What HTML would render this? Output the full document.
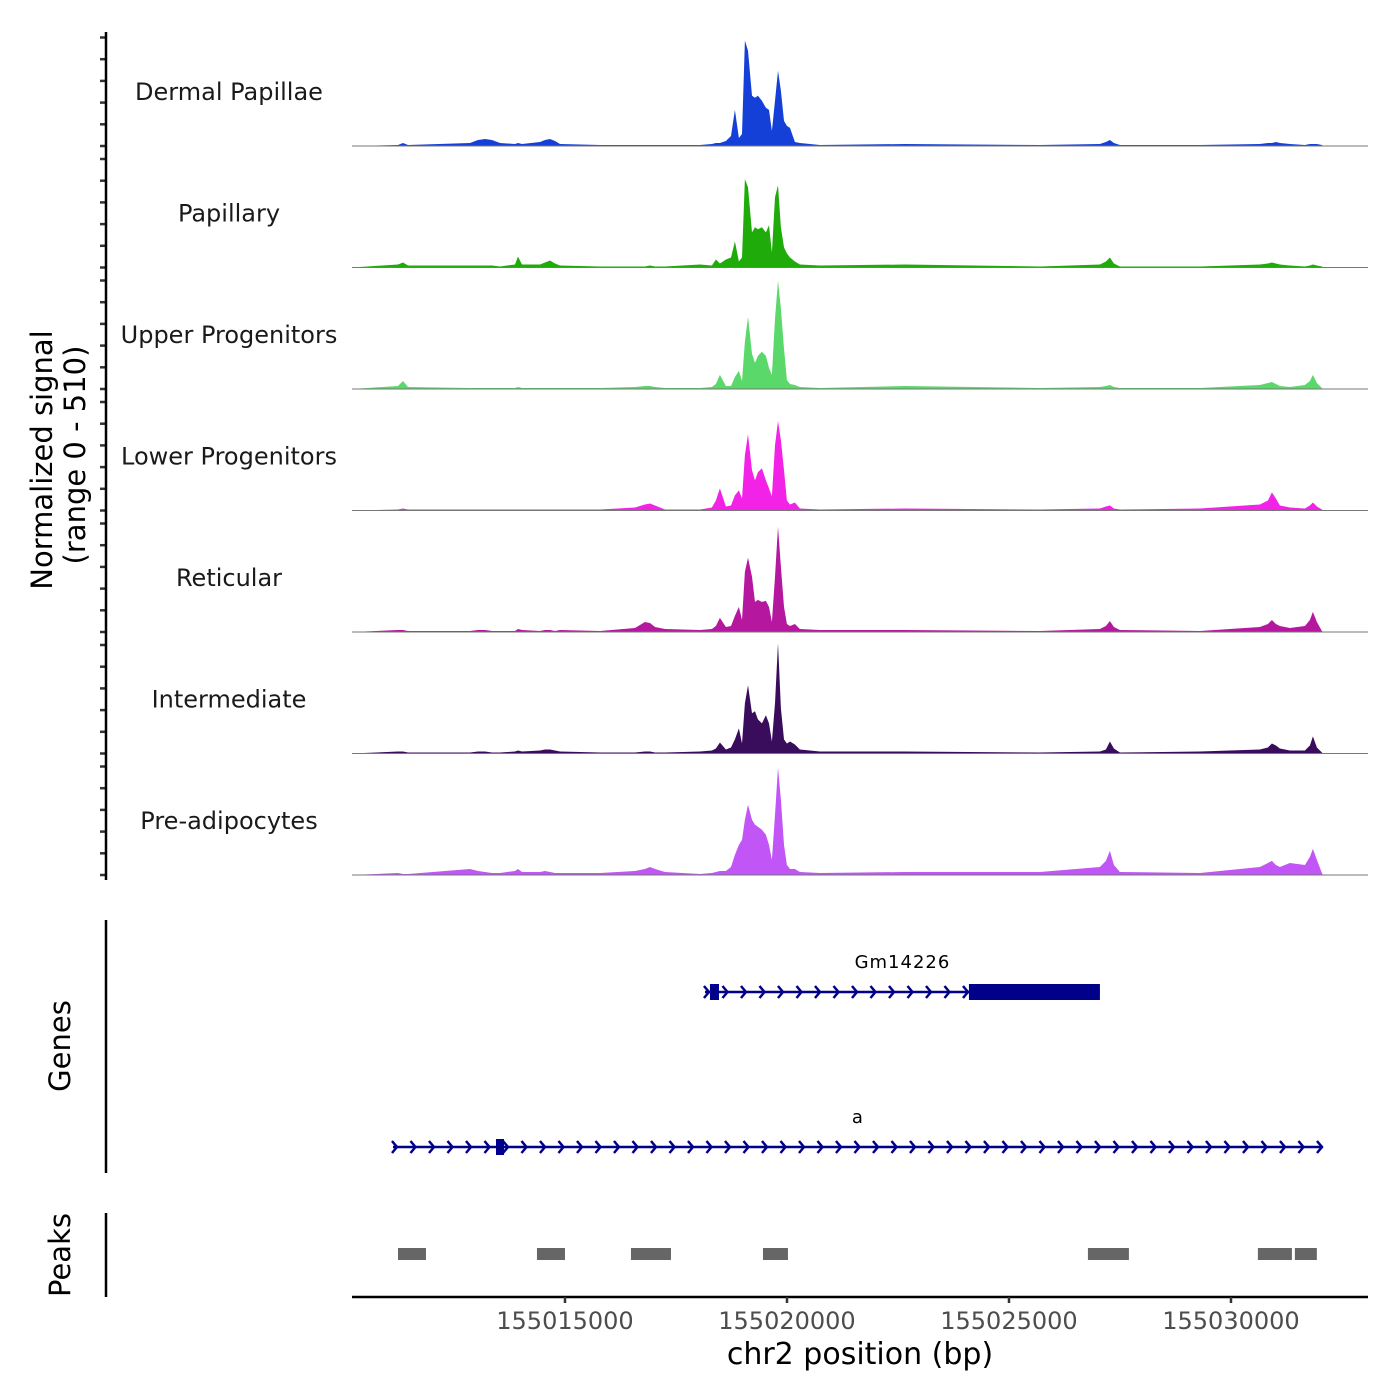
<!DOCTYPE html>
<html><head><meta charset="utf-8"><style>
html,body{margin:0;padding:0;background:#fff}
svg{display:block;font-family:"DejaVu Sans","Liberation Sans",sans-serif}
</style></head><body>
<svg id="chart" width="1400" height="1400" viewBox="0 0 1400 1400" xmlns="http://www.w3.org/2000/svg">
<g id="tracks"></g>
<g id="genes"></g>
<g id="peaks"></g>
<g id="axes"></g>
</svg>
<script>
const xDomain = [155010203, 155033086];
const yMaxSignal = 121;
const trackNames = ["Dermal Papillae","Papillary","Upper Progenitors","Lower Progenitors","Reticular","Intermediate","Pre-adipocytes"];
const trackColors = ["#1440d8","#1fab0a","#5ad86a","#f222e6","#b5179e","#3a0c5c","#c155f5"];
const positions = [155010203,155011239,155011352,155011464,155012860,155013041,155013198,155013356,155013536,155013874,155013941,155014031,155014437,155014549,155014662,155014775,155014887,155015788,155016576,155016801,155016914,155017027,155017252,
155018040,155018310,155018400,155018490,155018625,155018738,155018828,155018918,155018986,155019053,155019121,155019211,155019279,155019346,155019436,155019526,155019594,155019661,155019729,155019797,155019864,155019932,155019999,155020067,155020179,155020292,155020742,
155022657,155025697,155027048,155027183,155027273,155027363,155027498,155029300,155030651,155030831,155030921,155031011,155031102,155031327,155031665,155031777,155031844,155031934,155032047,155032070];
const sigDermalPapillae = [0,1,3,1,3,6,7,6,3,2,3,2,4,6,7,5,2,1,1,1,1,1,1,
1,2,3,3,5,10,36,8,12,105,95,50,48,50,45,38,36,15,45,75,55,25,20,18,4,3,1,
2,1,2,4,6,3,1,1,2,3,3,4,3,2,1,2,2,2,1,0];
const sigPapillary = [0,3,5,2,2,2,2,2,1,3,11,3,3,5,7,4,2,1,1,1,2,1,1,
3,2,8,4,8,10,26,6,10,88,80,35,40,38,40,35,42,15,70,82,40,20,14,10,6,3,2,
3,1,3,6,10,4,1,1,3,4,5,4,3,2,1,2,3,2,1,0];
const sigUpperProg = [0,3,8,2,1,1,1,1,1,1,2,1,1,1,1,1,1,1,2,3,3,2,1,
1,2,5,14,3,3,12,18,8,47,72,35,26,33,37,33,21,14,70,108,80,40,9,5,4,2,1,
3,1,2,3,4,2,1,1,4,6,7,5,3,2,4,8,14,6,1,0];
const sigLowerProg = [0,1,2,1,1,1,1,1,1,1,1,1,1,1,1,1,1,1,3,6,7,5,1,
1,3,10,22,4,5,15,20,12,55,76,40,30,38,42,30,22,14,65,89,70,40,10,6,8,2,1,
2,1,2,4,5,2,1,2,6,10,18,12,5,3,2,5,8,4,1,0];
const sigReticular = [0,2,2,1,1,2,2,1,1,1,3,2,1,2,2,1,2,1,4,10,9,5,3,
2,3,6,14,5,6,16,25,12,60,74,55,30,32,30,31,25,10,55,105,65,25,8,6,8,3,2,
2,1,3,6,11,5,2,1,5,8,12,8,6,4,6,12,20,10,1,0];
const sigIntermediate = [0,2,2,1,1,2,2,1,1,2,3,2,3,4,4,3,2,1,1,2,2,1,1,
2,3,5,11,4,6,14,25,10,50,68,40,42,34,30,38,30,12,50,110,45,14,10,12,9,4,2,
2,1,2,4,12,5,1,2,4,6,10,8,5,3,3,8,17,6,1,0];
const sigPreAdipo = [0,2,1,1,6,4,3,2,2,4,6,3,3,4,3,2,2,2,4,6,8,6,3,
1,2,3,4,4,8,20,30,35,55,70,55,50,48,45,40,30,15,60,107,75,30,10,6,6,3,2,
3,3,8,14,24,10,3,2,8,12,14,10,8,12,10,18,26,15,2,0];
const signals = [sigDermalPapillae,sigPapillary,sigUpperProg,sigLowerProg,sigReticular,sigIntermediate,sigPreAdipo];
const geneNames = ["Gm14226","a"];
const geneStarts = [155018153,155011126];
const geneEnds = [155027048,155032070];
const exonStarts = [[155018265,155024098],[155013446]];
const exonEnds = [[155018468,155027048],[155013626]];
const peakStarts = [155011239,155014369,155016486,155019459,155026778,155030606,155031439];
const peakEnds = [155011869,155015000,155017387,155020022,155027701,155031372,155031934];
const xTicks = [155015000,155020000,155025000,155030000];

const NS="http://www.w3.org/2000/svg";
const X0=352,X1=1368;
function xs(v){return X0+(v-xDomain[0])/(xDomain[1]-xDomain[0])*(X1-X0);}
const trackH=121.5, base0=146;
function mk(tag,attrs,parent,text){const e=document.createElementNS(NS,tag);for(const k in attrs)e.setAttribute(k,attrs[k]);if(text!==undefined)e.textContent=text;parent.appendChild(e);return e;}
const gT=document.getElementById('tracks'),gG=document.getElementById('genes'),gP=document.getElementById('peaks'),gA=document.getElementById('axes');
const F='font-family:"DejaVu Sans","Liberation Sans",sans-serif';

signals.forEach((sig,i)=>{
  const b=base0+i*trackH;
  const ys=v=>b-v/yMaxSignal*trackH;
  let d='M'+xs(positions[0]).toFixed(1)+','+b;
  positions.forEach((p,j)=>{d+=' L'+xs(p).toFixed(1)+','+ys(sig[j]).toFixed(1);});
  d+=' L'+xs(positions[positions.length-1]).toFixed(1)+','+b+' Z';
  const a=mk('path',{d:d,fill:trackColors[i]},gT);
  
  
  const bl=mk('line',{x1:X0,x2:X1,y1:b,y2:b,stroke:'#777','stroke-width':1},gT);
  
  
  const t=mk('text',{x:229,y:b-46,'text-anchor':'middle','font-size':24,fill:'#1a1a1a',style:F},gT,trackNames[i]);
  
  
  for(let k=0;k<6;k++){
    const tk=mk('line',{x1:100,x2:106,y1:b-k*21.7,y2:b-k*21.7,stroke:'#333','stroke-width':2.5},gA);
    
    
  }
});
const yax=mk('line',{x1:106,x2:106,y1:32,y2:880,stroke:'#000','stroke-width':2.5},gA);


const yt=mk('text',{transform:'translate(52,460) rotate(-90)','text-anchor':'middle','font-size':29,fill:'#000',style:F},gA,'Normalized signal');


const yt2=mk('text',{transform:'translate(85,455) rotate(-90)','text-anchor':'middle','font-size':29,fill:'#000',style:F},gA,'(range 0 - 510)');



const geneY=[992,1147];
const gc='#00008b';
geneNames.forEach((n,i)=>{
  const y=geneY[i],x1=xs(geneStarts[i]),x2=xs(geneEnds[i]);
  const ln=mk('line',{x1:x1,x2:x2,y1:y,y2:y,stroke:gc,'stroke-width':2.5},gG);
  
  
  for(let x=x1+4;x<=x2+1;x+=18.5){
    const c=mk('polyline',{points:(x-5)+','+(y-6)+' '+x+','+y+' '+(x-5)+','+(y+6),fill:'none',stroke:gc,'stroke-width':2.5},gG);
    
    
  }
  exonStarts[i].forEach((s,k)=>{
    const r=mk('rect',{x:xs(s),y:y-8,width:xs(exonEnds[i][k])-xs(s),height:16,fill:gc},gG);
    
    
  });
  const lt=mk('text',{x:(x1+x2)/2,y:y-24,'text-anchor':'middle','font-size':18,fill:'#000',style:F+';letter-spacing:1px'},gG,n);
  
  
});
const gax=mk('line',{x1:106,x2:106,y1:920,y2:1173,stroke:'#000','stroke-width':2.5},gA);


const gtt=mk('text',{transform:'translate(70,1046) rotate(-90)','text-anchor':'middle','font-size':29,fill:'#000',style:F},gA,'Genes');



peakStarts.forEach((s,i)=>{
  const r=mk('rect',{x:xs(s),y:1248,width:xs(peakEnds[i])-xs(s),height:12,fill:'#666'},gP);
  
  
});
const pax=mk('line',{x1:106,x2:106,y1:1213,y2:1297,stroke:'#000','stroke-width':2.5},gA);


const ptt=mk('text',{transform:'translate(70,1255) rotate(-90)','text-anchor':'middle','font-size':29,fill:'#000',style:F},gA,'Peaks');



const xax=mk('line',{x1:X0,x2:X1,y1:1297,y2:1297,stroke:'#000','stroke-width':2.5},gA);


xTicks.forEach(v=>{
  const x=xs(v);
  const tk=mk('line',{x1:x,x2:x,y1:1297,y2:1303,stroke:'#333','stroke-width':2.5},gA);
  
  
  const tl=mk('text',{x:x,y:1329,'text-anchor':'middle','font-size':24,fill:'#4d4d4d',style:F},gA,String(v));
  
  
});
const xt=mk('text',{x:860,y:1364,'text-anchor':'middle','font-size':30,fill:'#000',style:F},gA,'chr2 position (bp)');


</script>
</body></html>
